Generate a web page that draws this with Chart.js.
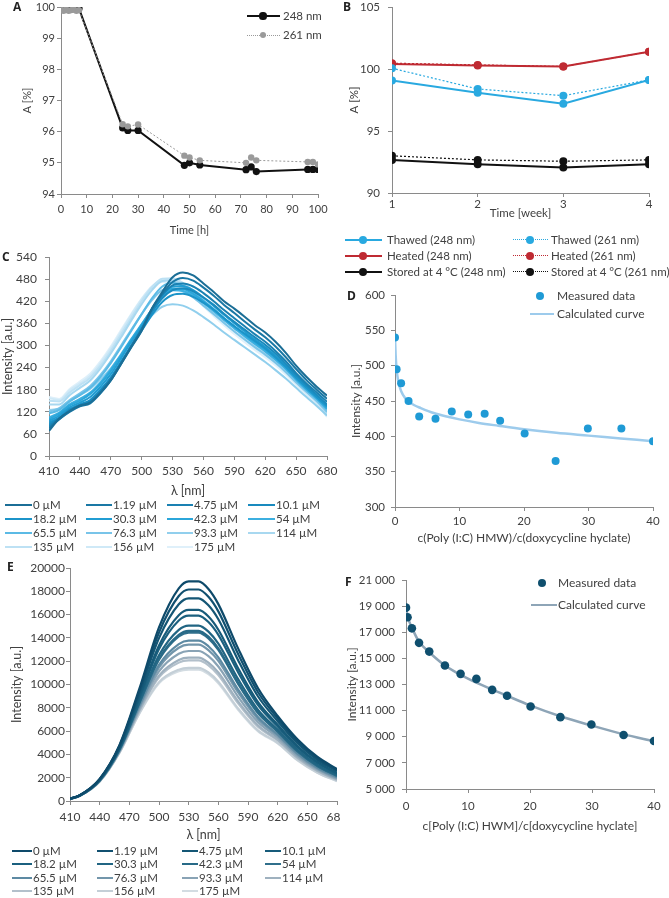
<!DOCTYPE html>
<html>
<head>
<meta charset="utf-8">
<script src="https://cdn.jsdelivr.net/npm/chart.js@4"></script>
<style>
body{margin:0;background:#fff;width:669px;height:898px;position:relative;overflow:hidden;font-family:Lato,sans-serif;color:#404040}
canvas{position:absolute}
.lbl{position:absolute;font:bold 12px/12px 'Open Sans',sans-serif;color:#222}
.lt{position:absolute;white-space:nowrap;line-height:16px}
</style>
</head>
<body>
<canvas id="ca"></canvas><canvas id="cb"></canvas><canvas id="cc"></canvas>
<canvas id="cd"></canvas><canvas id="ce"></canvas><canvas id="cf"></canvas>
<div class="lbl" style="left:13px;top:1px">A</div>
<div class="lbl" style="left:343px;top:1px">B</div>
<div class="lbl" style="left:2px;top:251px">C</div>
<div class="lbl" style="left:347px;top:290px">D</div>
<div class="lbl" style="left:7px;top:561px">E</div>
<div class="lbl" style="left:345px;top:576px">F</div>
<script>
// A: absorbance vs time
const hours = [0, 1, 2, 3, 4, 5, 6, 7, 24, 26, 30, 48, 50, 54, 72, 74, 76, 96, 98, 100];
const a248 = [100, 100, 100, 99.95, 100, 99.95, 99.95, 99.95, 96.12, 96.04, 96.04, 94.92, 95.0, 94.93, 94.78, 94.87, 94.72, 94.79, 94.79, 94.79];
const a261 = [99.92, 99.88, 99.92, 99.88, 99.9, 99.92, 99.88, 99.9, 96.24, 96.17, 96.23, 95.23, 95.17, 95.08, 95.0, 95.17, 95.08, 95.03, 95.03, 94.95];

// B: absorbance vs week
const weeks = [1, 2, 3, 4];
const thawed248 = [99.07, 98.09, 97.2, 99.12];
const thawed261 = [100.06, 98.39, 97.85, 99.12];
const heated248 = [100.41, 100.28, 100.2, 101.39];
const heated261 = [100.47, 100.33, 100.2, 101.39];
const stored248 = [92.67, 92.32, 92.05, 92.32];
const stored261 = [93.0, 92.67, 92.56, 92.67];

// C, E: concentrations
const conc = ['0 µM', '1.19 µM', '4.75 µM', '10.1 µM', '18.2 µM', '30.3 µM', '42.3 µM', '54 µM',
  '65.5 µM', '76.3 µM', '93.3 µM', '114 µM', '135 µM', '156 µM', '175 µM'];

// C spectra
const cWl = [410, 420, 430, 440, 450, 460, 470, 480, 490, 500, 510, 520, 530, 540, 550, 560, 570, 580, 590, 600, 610, 620, 630, 640, 650, 660, 670, 680];
const cSpec = [
  [68, 102, 122, 137, 145, 172, 205, 250, 295, 340, 400, 445, 485, 498, 490, 468, 445, 420, 400, 378, 355, 335, 310, 280, 245, 215, 188, 164],
  [75, 100, 120, 135, 143, 170, 205, 250, 297, 343, 400, 440, 472, 483, 476, 457, 435, 410, 388, 365, 343, 322, 297, 268, 236, 206, 180, 155],
  [80, 100, 122, 136, 146, 173, 208, 252, 300, 345, 398, 437, 463, 468, 460, 442, 420, 396, 374, 352, 330, 310, 285, 257, 225, 197, 172, 147],
  [85, 102, 125, 138, 150, 178, 212, 255, 300, 343, 390, 428, 450, 455, 447, 430, 410, 386, 364, 343, 322, 302, 278, 250, 220, 192, 166, 140],
  [90, 105, 127, 140, 152, 180, 213, 255, 298, 340, 383, 418, 437, 440, 432, 416, 397, 374, 352, 332, 312, 292, 268, 242, 213, 186, 160, 135],
  [95, 110, 132, 145, 160, 188, 222, 265, 310, 352, 395, 435, 460, 461, 450, 430, 407, 383, 360, 338, 316, 296, 272, 245, 215, 188, 162, 135],
  [100, 115, 137, 150, 168, 196, 230, 272, 315, 356, 398, 435, 454, 453, 440, 420, 398, 374, 352, 330, 309, 289, 266, 240, 210, 183, 158, 130],
  [105, 118, 140, 155, 172, 200, 235, 276, 318, 358, 398, 432, 450, 448, 435, 415, 393, 369, 347, 325, 304, 284, 261, 236, 207, 180, 155, 128],
  [115, 125, 148, 165, 185, 215, 252, 295, 340, 385, 428, 460, 470, 462, 445, 422, 398, 373, 350, 328, 306, 286, 263, 237, 208, 181, 155, 126],
  [120, 130, 152, 170, 190, 220, 257, 300, 343, 385, 423, 450, 455, 447, 430, 408, 385, 361, 338, 316, 295, 275, 253, 228, 200, 174, 149, 120],
  [125, 128, 148, 165, 182, 208, 238, 273, 310, 348, 382, 405, 412, 408, 395, 377, 357, 335, 315, 295, 275, 255, 233, 210, 185, 160, 136, 110],
  [140, 140, 165, 185, 205, 238, 278, 322, 368, 412, 450, 475, 477, 465, 445, 420, 395, 370, 346, 323, 300, 280, 257, 232, 203, 176, 150, 118],
  [150, 148, 172, 192, 212, 245, 285, 330, 376, 420, 458, 481, 482, 470, 450, 424, 398, 372, 348, 325, 302, 281, 258, 232, 203, 175, 148, 115],
  [157, 152, 178, 197, 218, 252, 292, 337, 383, 425, 460, 477, 474, 460, 440, 414, 388, 362, 338, 316, 294, 274, 251, 226, 197, 170, 143, 110],
  [160, 155, 182, 202, 223, 257, 297, 342, 386, 427, 460, 472, 468, 453, 432, 406, 380, 355, 331, 309, 288, 268, 246, 221, 193, 166, 140, 106]
];
const cColors = ['#1b6e96', '#1a78a5', '#1a81b2', '#198abe', '#1c94c9', '#219dd3', '#2ba6da', '#3cafe0', '#5bbae5', '#78c4e9', '#91cfed', '#a8d8f0', '#bde1f4', '#cfe9f7', '#dff0fa'];

// D, F: ratio c(Poly I:C)/c(doxycycline)
const ratio = [0, 0.25, 0.95, 2.1, 3.75, 6.28, 8.8, 11.35, 13.9, 16.3, 20.1, 24.9, 29.9, 35.1, 40.0];
const dMeasured = [540, 495, 475, 450, 428, 425, 435, 431, 432, 422, 404, 365, 411, 411, 393];
const dCurveX = [0, 0.1, 0.25, 0.5, 1, 1.5, 2, 3, 4, 6, 8, 10, 13, 16, 20, 25, 30, 35, 40];
const dCurveY = [540, 515, 495, 478, 463, 455, 450, 444, 440, 433, 428, 424, 419, 415, 410, 405, 401, 397, 393];

// E spectra
const eWl = [410, 420, 440, 460, 480, 500, 520, 530, 540, 550, 560, 580, 600, 620, 640, 660, 680];
const eSpec = [
  [200, 500, 1900, 4800, 9600, 14900, 18250, 18850, 18850, 18200, 16900, 13100, 9700, 7300, 5300, 3800, 2750],
  [198, 494, 1879, 4738, 9405, 14459, 17595, 18153, 18153, 17527, 16275, 12615, 9359, 7084, 5133, 3673, 2653],
  [195, 488, 1856, 4671, 9193, 13982, 16887, 17399, 17399, 16799, 15599, 12091, 8990, 6850, 4953, 3537, 2549],
  [192, 481, 1826, 4582, 8914, 13350, 15949, 16400, 16400, 15834, 14703, 11397, 8502, 6541, 4714, 3355, 2410],
  [191, 477, 1811, 4538, 8776, 13040, 15489, 15909, 15909, 15361, 14264, 11056, 8262, 6389, 4597, 3266, 2342],
  [188, 470, 1785, 4462, 8539, 12504, 14691, 15061, 15061, 14542, 13503, 10467, 7848, 6126, 4394, 3113, 2225],
  [187, 466, 1772, 4422, 8412, 12218, 14267, 14609, 14609, 14105, 13098, 10153, 7627, 5986, 4288, 3031, 2162],
  [186, 465, 1767, 4409, 8370, 12123, 14126, 14458, 14458, 13959, 12962, 10048, 7553, 5939, 4250, 3003, 2141],
  [184, 460, 1746, 4346, 8174, 11682, 13470, 13761, 13761, 13286, 12337, 9563, 7212, 5723, 4084, 2877, 2045],
  [183, 457, 1736, 4316, 8079, 11467, 13151, 13421, 13421, 12958, 12033, 9327, 7046, 5618, 4003, 2815, 1998],
  [181, 452, 1719, 4267, 7926, 11121, 12638, 12875, 12875, 12431, 11543, 8947, 6779, 5449, 3872, 2716, 1922],
  [179, 448, 1702, 4217, 7768, 10764, 12107, 12309, 12309, 11885, 11036, 8554, 6503, 5274, 3737, 2613, 1844],
  [178, 446, 1695, 4195, 7699, 10609, 11877, 12064, 12064, 11648, 10816, 8384, 6383, 5198, 3678, 2569, 1810],
  [176, 441, 1675, 4138, 7520, 10203, 11275, 11423, 11423, 11029, 10241, 7939, 6069, 4999, 3525, 2453, 1721],
  [176, 440, 1671, 4128, 7478, 10108, 11134, 11272, 11272, 10884, 10106, 7834, 5995, 4951, 3486, 2424, 1700]
];
const eColors = ['#0e4a6a', '#115070', '#145675', '#175b7a', '#1b607f', '#216583', '#286a87', '#306f8b', '#5d8aa3', '#7396ab', '#89a3b5', '#9fb1bf', '#b3c0cb', '#c4cfd7', '#d3dce2'];

const fMeasured = [18885, 18150, 17300, 16190, 15520, 14450, 13815, 13430, 12590, 12135, 11320, 10500, 9940, 9130, 8670];
const fCurveX = [0, 0.25, 0.5, 1, 2, 3, 4, 6, 8, 10, 13, 16, 20, 25, 30, 35, 40];
const fCurveY = [18900, 18250, 17850, 17300, 16350, 15800, 15350, 14550, 13950, 13450, 12800, 12200, 11400, 10550, 9850, 9200, 8650];

Chart.defaults.font.family = 'Lato, sans-serif';
Chart.defaults.color = '#404040';
Chart.defaults.animation = false;
Chart.defaults.responsive = false;
Chart.defaults.plugins.legend.display = false;
Chart.defaults.plugins.tooltip.enabled = false;

const AX = '#8a8a8a';
const pts = (xs, ys) => xs.map((x, i) => ({x: x, y: ys[i]}));
const spaced = v => String(v).replace(/\B(?=(\d{3})+(?!\d))/g, ' ');

function axis(o) {
  return {
    type: 'linear', min: o.min, max: o.max,
    ticks: {stepSize: o.step, font: {size: o.fs}, padding: o.pad, maxRotation: 0, autoSkip: false,
      callback: o.fmt || (v => String(v))},
    grid: {drawOnChartArea: false, tickLength: 4, color: AX},
    border: {color: AX, width: 1},
    title: {display: true, text: o.title, font: {size: o.ts}, padding: 0},
    afterFit(s) {
      if (o.horiz) s.height = o.size; else s.width = o.size;
      s.paddingLeft = 0; s.paddingRight = 0; s.paddingTop = 0; s.paddingBottom = 0;
    }
  };
}

// cv = canvas [left, top, w, h]; plot = [x0, y0, x1, y1] in page px
function panel(id, cv, plot, yTitleX, xTitleY, fs, ts, xo, yo, datasets) {
  const c = document.getElementById(id);
  c.width = cv[2]; c.height = cv[3];
  c.style.left = cv[0] + 'px'; c.style.top = cv[1] + 'px';
  const half = ts * 0.6;
  const pad = {
    left: yTitleX - half - cv[0],
    top: plot[1] - cv[1],
    right: cv[0] + cv[2] - plot[2],
    bottom: cv[1] + cv[3] - (xTitleY + half)
  };
  const x = axis(Object.assign({fs: fs, ts: ts, horiz: true, size: xTitleY + half - plot[3]}, xo));
  const y = axis(Object.assign({fs: fs, ts: ts, horiz: false, size: plot[0] - cv[0] - pad.left}, yo));
  return new Chart(c, {type: 'line', data: {datasets: datasets},
    options: {layout: {padding: pad}, scales: {x: x, y: y}}});
}

function lineSet(xs, ys, color, w, opts) {
  return Object.assign({data: pts(xs, ys), borderColor: color, backgroundColor: color,
    pointBackgroundColor: color, borderWidth: w, pointRadius: 0, pointBorderWidth: 0,
    fill: false}, opts || {});
}

// ---- A ----
panel('ca', [0, 0, 335, 245], [61, 7, 318, 194], 27, 230, 11, 11,
  {min: 0, max: 100, step: 10, title: 'Time [h]', pad: 5},
  {min: 94, max: 100, step: 1, title: 'A [%]', pad: 2},
  [
    lineSet(hours, a261, '#9a9a9a', 1, {borderDash: [2, 2], pointRadius: 3.2}),
    lineSet(hours, a248, '#111111', 2, {pointRadius: 3.6})
  ]);

// ---- B ----
const thawed = '#29a9e0', heated = '#bf2a32', stored = '#111111';
panel('cb', [340, 0, 329, 225], [392, 7, 649, 193], 354, 213, 11.5, 11.5,
  {min: 1, max: 4, step: 1, title: 'Time [week]', pad: 0},
  {min: 90, max: 105, step: 5, title: 'A [%]', pad: 8},
  [
    lineSet(weeks, thawed248, thawed, 2, {pointRadius: 4}),
    lineSet(weeks, thawed261, thawed, 1.2, {borderDash: [2, 2], pointRadius: 4}),
    lineSet(weeks, heated248, heated, 2, {pointRadius: 4}),
    lineSet(weeks, heated261, heated, 1.2, {borderDash: [2, 2], pointRadius: 4}),
    lineSet(weeks, stored248, stored, 2, {pointRadius: 4}),
    lineSet(weeks, stored261, stored, 1.2, {borderDash: [2, 2], pointRadius: 4})
  ]);

// ---- C ----
panel('cc', [0, 248, 340, 250], [49, 257, 327, 456], 8, 491, 12, 12.5,
  {min: 410, max: 680, step: 30, title: 'λ [nm]', pad: 4},
  {min: 0, max: 540, step: 60, title: 'Intensity [a.u.]', pad: 8},
  cSpec.map((s, i) => lineSet(cWl, s, cColors[i], 2, {cubicInterpolationMode: 'monotone'})));

// ---- D ----
panel('cd', [340, 285, 329, 260], [395, 295, 653, 507], 356, 538, 11.5, 12,
  {min: 0, max: 40, step: 10, title: 'c(Poly (I:C) HMW)/c(doxycycline hyclate)', pad: 3},
  {min: 300, max: 600, step: 50, title: 'Intensity [a.u.]', pad: 6},
  [
    lineSet(ratio, dMeasured, '#1f9ad5', 0, {showLine: false, pointRadius: 4}),
    lineSet(dCurveX, dCurveY, '#9dcbec', 2.5, {cubicInterpolationMode: 'monotone'})
  ]);

// ---- E ----
panel('ce', [0, 558, 340, 285], [70, 568, 337, 801], 17, 835, 12, 12.5,
  {min: 410, max: 680, step: 30, title: 'λ [nm]', pad: 5},
  {min: 0, max: 20000, step: 2000, title: 'Intensity [a.u.]', pad: 1},
  eSpec.map((s, i) => lineSet(eWl, s, eColors[i], 2.2, {cubicInterpolationMode: 'monotone'})));

// ---- F ----
panel('cf', [340, 570, 329, 265], [406, 580, 654, 789], 352, 826, 11.5, 12,
  {min: 0, max: 40, step: 10, title: 'c[Poly (I:C) HWM]/c[doxycycline hyclate]', pad: 6},
  {min: 5000, max: 21000, step: 2000, title: 'Intensity [a.u.]', pad: 7, fmt: spaced},
  [
    lineSet(ratio, fMeasured, '#0f4f6e', 0, {showLine: false, pointRadius: 4.3}),
    lineSet(fCurveX, fCurveY, '#8ea5b7', 2.5, {cubicInterpolationMode: 'monotone'})
  ]);

// ---- HTML legends ----
function el(css, text) {
  const d = document.createElement('div');
  d.style.cssText = 'position:absolute;' + css;
  if (text) { d.className = 'lt'; d.textContent = text; }
  document.body.appendChild(d);
}
function legLine(x1, x2, y, color, w, dotted) {
  el(`left:${x1}px;top:${y - w / 2}px;width:${x2 - x1}px;height:0;border-top:${w}px ${dotted ? 'dotted' : 'solid'} ${color}`);
}
function legDot(x, y, r, color) {
  el(`left:${x - r}px;top:${y - r}px;width:${2 * r}px;height:${2 * r}px;border-radius:50%;background:${color}`);
}
function legText(x, y, t, fs) {
  el(`left:${x}px;top:${y - 8}px;font-size:${fs}px`, t);
}

// A legend
legLine(247, 280, 16, '#111', 2, false); legDot(263, 16, 3.6, '#111'); legText(283, 16, '248 nm', 11.5);
legLine(247, 280, 35, '#9a9a9a', 1, true); legDot(263, 35, 3.2, '#9a9a9a'); legText(283, 35, '261 nm', 11.5);

// B legend
const bNames = [['Thawed (248 nm)', 'Thawed (261 nm)', thawed], ['Heated (248 nm)', 'Heated (261 nm)', heated],
  ['Stored at 4 °C (248 nm)', 'Stored at 4 °C (261 nm)', stored]];
bNames.forEach((r, i) => {
  const y = 240 + i * 16;
  legLine(345, 382, y, r[2], 2, false); legDot(363, y, 4, r[2]); legText(387, y, r[0], 11.5);
  legLine(513, 548, y, r[2], 1.5, true); legDot(530, y, 4, r[2]); legText(551, y, r[1], 11.5);
});

// C legend
const cCols = [[5, 32], [86, 112], [167, 193], [248, 275]];
conc.forEach((t, i) => {
  const y = 505 + Math.floor(i / 4) * 14;
  const c = cCols[i % 4];
  legLine(c[0], c[1], y, cColors[i], 2, false); legText(c[1] + 1, y, t, 11.5);
});

// D legend
legDot(540, 296, 4, '#1f9ad5'); legText(557, 296, 'Measured data', 12);
legLine(530, 554, 314, '#9dcbec', 2.5, false); legText(557, 314, 'Calculated curve', 12);

// E legend
const eCols = [[12, 32], [97, 113], [182, 198], [265, 281]];
conc.forEach((t, i) => {
  const y = 851 + Math.floor(i / 4) * 13.4;
  const c = eCols[i % 4];
  legLine(c[0], c[1], y, eColors[i], 2.5, false); legText(c[1] + 1, y, t, 11.5);
});

// F legend
legDot(542, 583, 4.3, '#0f4f6e'); legText(558, 583, 'Measured data', 12);
legLine(531, 557, 605, '#8ea5b7', 2.5, false); legText(558, 605, 'Calculated curve', 12);
</script>
</body>
</html>
